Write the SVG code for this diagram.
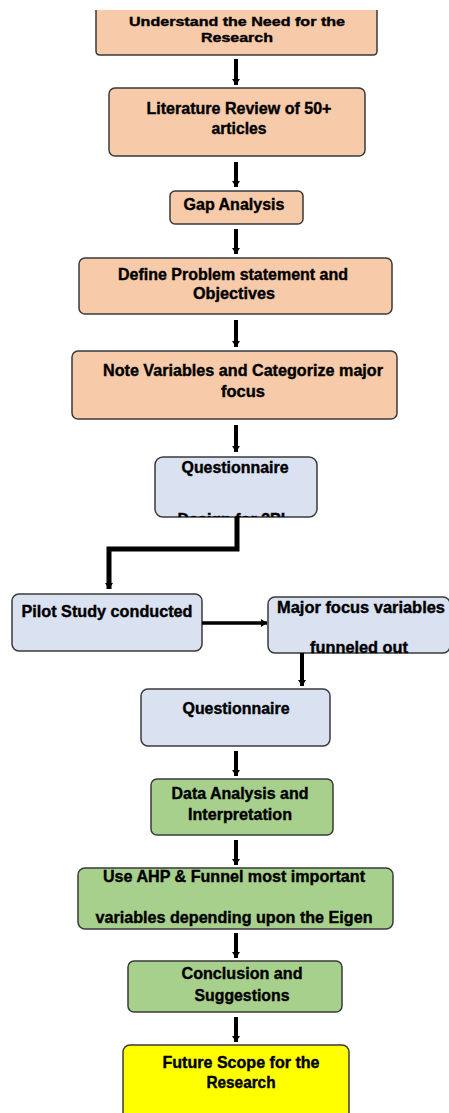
<svg xmlns="http://www.w3.org/2000/svg" width="449" height="1113" viewBox="0 0 449 1113">
<style>
.b{stroke:#3a3a3a;stroke-width:1.5}
.p{fill:#F7CBA9}
.q{fill:#DAE2F2}
.g{fill:#A8D08D}
.y{fill:#FFFF00}
text{font-family:"Liberation Sans",Arial,sans-serif;font-weight:bold;font-size:16.5px;fill:#000;text-anchor:middle;stroke:#000;stroke-width:0.4}
.s{font-size:13.5px}
.c{stroke:#000;stroke-width:4;fill:none}
.t{stroke:#000;stroke-width:5;fill:none}
.h{stroke:#000;stroke-width:3.5;fill:none}
</style>
<defs>
<marker id="ah" markerWidth="8" markerHeight="8" refX="6" refY="4" orient="auto" markerUnits="userSpaceOnUse">
<path d="M0,0 L6,4 L0,8 Z" fill="#000"/>
</marker>
<clipPath id="c6"><rect x="155" y="457" width="162" height="60"/></clipPath>
</defs>
<g id="n1">
<path class="b p" d="M96,10 V51 Q96,55 100,55 H373 Q377,55 377,51 V10"/>
<text class="s" x="237" y="26" textLength="216" lengthAdjust="spacingAndGlyphs">Understand the Need for the</text>
<text class="s" x="237" y="42" textLength="72" lengthAdjust="spacingAndGlyphs">Research</text>
</g>
<g id="n2">
<rect class="b p" x="109" y="88" width="256" height="68" rx="6"/>
<text x="239" y="114" textLength="185" lengthAdjust="spacingAndGlyphs">Literature Review of 50+</text>
<text x="239" y="134" textLength="55" lengthAdjust="spacingAndGlyphs">articles</text>
</g>
<g id="n3">
<rect class="b p" x="170" y="191" width="133" height="33" rx="5"/>
<text x="234" y="210" textLength="101" lengthAdjust="spacingAndGlyphs">Gap Analysis</text>
</g>
<g id="n4">
<rect class="b p" x="79" y="258" width="313" height="56" rx="6"/>
<text x="233" y="280" textLength="230" lengthAdjust="spacingAndGlyphs">Define Problem statement and</text>
<text x="234" y="299" textLength="82" lengthAdjust="spacingAndGlyphs">Objectives</text>
</g>
<g id="n5">
<rect class="b p" x="72" y="351" width="325" height="68" rx="6"/>
<text x="243" y="376" textLength="280" lengthAdjust="spacingAndGlyphs">Note Variables and Categorize major</text>
<text x="243" y="397" textLength="44" lengthAdjust="spacingAndGlyphs">focus</text>
</g>
<g id="n6">
<rect class="b q" x="155" y="457" width="162" height="60" rx="8"/>
<text x="235" y="473" textLength="107" lengthAdjust="spacingAndGlyphs">Questionnaire</text>
<text x="234" y="525" textLength="113" lengthAdjust="spacingAndGlyphs" clip-path="url(#c6)">Design for 3PL</text>
</g>
<g id="n7">
<rect class="b q" x="12" y="594" width="190" height="57" rx="7"/>
<text x="107" y="617" textLength="171" lengthAdjust="spacingAndGlyphs">Pilot Study conducted</text>
</g>
<g id="n8">
<rect class="b q" x="268" y="597" width="182" height="56" rx="7"/>
<text x="361" y="613" textLength="168" lengthAdjust="spacingAndGlyphs">Major focus variables</text>
<text x="359" y="653" textLength="98" lengthAdjust="spacingAndGlyphs">funneled out</text>
</g>
<g id="n9">
<rect class="b q" x="141" y="689" width="189" height="57" rx="7"/>
<text x="236" y="714" textLength="107" lengthAdjust="spacingAndGlyphs">Questionnaire</text>
</g>
<g id="n10">
<rect class="b g" x="151" y="779" width="182" height="56" rx="6"/>
<text x="240" y="799" textLength="137" lengthAdjust="spacingAndGlyphs">Data Analysis and</text>
<text x="240" y="820" textLength="104" lengthAdjust="spacingAndGlyphs">Interpretation</text>
</g>
<g id="n11">
<rect class="b g" x="78" y="868" width="315" height="61" rx="7"/>
<text x="234" y="882" textLength="262" lengthAdjust="spacingAndGlyphs">Use AHP &amp; Funnel most important</text>
<text x="234" y="923" textLength="277" lengthAdjust="spacingAndGlyphs">variables depending upon the Eigen</text>
</g>
<g id="n12">
<rect class="b g" x="128" y="961" width="214" height="51" rx="6"/>
<text x="242" y="979" textLength="121" lengthAdjust="spacingAndGlyphs">Conclusion and</text>
<text x="242" y="1001" textLength="95" lengthAdjust="spacingAndGlyphs">Suggestions</text>
</g>
<g id="n13">
<rect class="b y" x="123" y="1045" width="226" height="80" rx="7"/>
<text x="241" y="1068" textLength="157" lengthAdjust="spacingAndGlyphs">Future Scope for the</text>
<text x="241" y="1088" textLength="69" lengthAdjust="spacingAndGlyphs">Research</text>
</g>
<g id="connectors">
<line class="c" x1="236" y1="59" x2="236" y2="85" marker-end="url(#ah)"/>
<line class="c" x1="236" y1="162" x2="236" y2="187" marker-end="url(#ah)"/>
<line class="c" x1="236" y1="229" x2="236" y2="254" marker-end="url(#ah)"/>
<line class="c" x1="236" y1="320" x2="236" y2="347" marker-end="url(#ah)"/>
<line class="c" x1="236" y1="425" x2="236" y2="452" marker-end="url(#ah)"/>
<polyline class="t" points="237,517 237,549 109,549 109,589" marker-end="url(#ah)"/>
<line class="h" x1="202" y1="623" x2="267" y2="623" marker-end="url(#ah)"/>
<line class="c" x1="302" y1="653" x2="302" y2="686" marker-end="url(#ah)"/>
<line class="c" x1="236" y1="751" x2="236" y2="776" marker-end="url(#ah)"/>
<line class="c" x1="236" y1="840" x2="236" y2="865" marker-end="url(#ah)"/>
<line class="c" x1="236" y1="933" x2="236" y2="958" marker-end="url(#ah)"/>
<line class="c" x1="236" y1="1017" x2="236" y2="1042" marker-end="url(#ah)"/>
</g>
</svg>
